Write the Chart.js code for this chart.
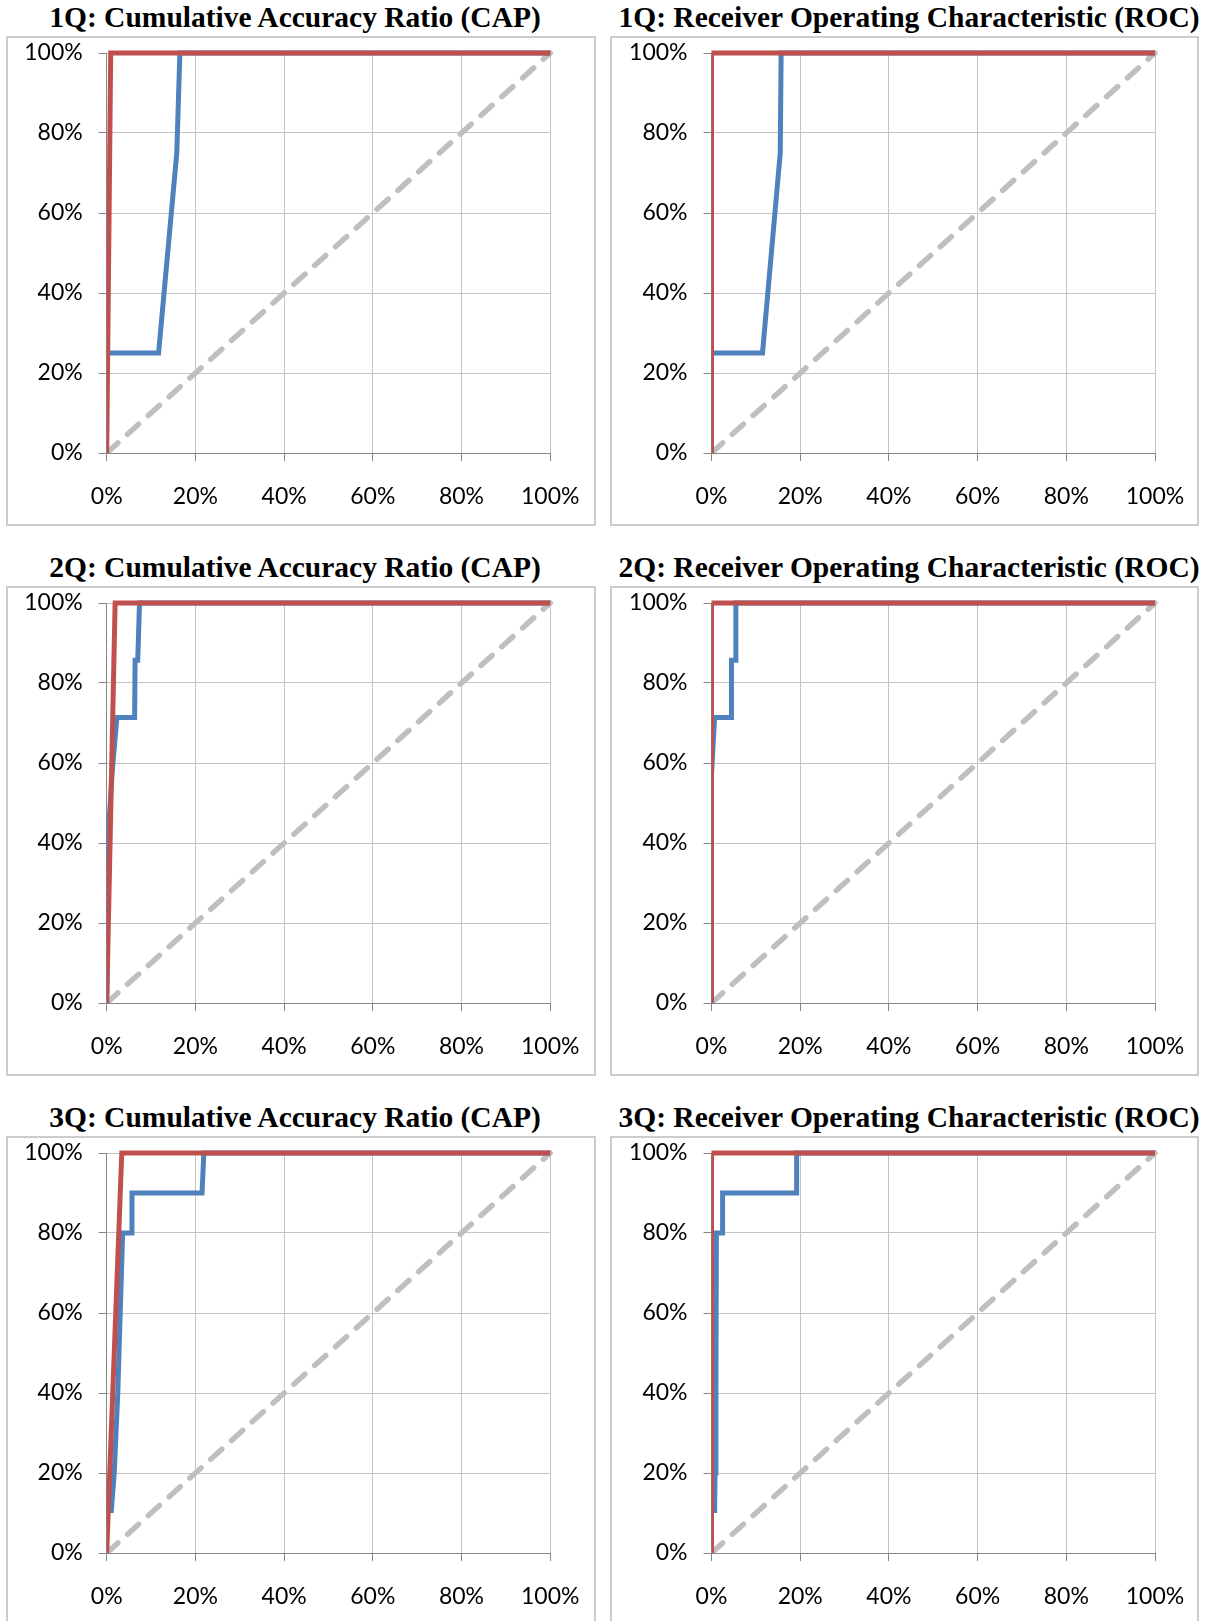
<!DOCTYPE html>
<html>
<head>
<meta charset="utf-8">
<script src="https://cdn.jsdelivr.net/npm/chart.js@4.4.1/dist/chart.umd.min.js"></script>
<style>
  html, body { margin: 0; padding: 0; background: #fff; }
  body { width: 1206px; height: 1621px; position: relative; overflow: hidden; }
  .title {
    position: absolute; height: 36px; line-height: 36px; text-align: center;
    font: bold 29.5px "Liberation Serif", "Times New Roman", serif; color: #000; white-space: nowrap;
  }
  .frame { position: absolute; box-sizing: border-box; border: 2px solid #cccccc; background: #fff; }
  .frame canvas { display: block; }
</style>
</head>
<body>
<script>
// chart titles, row by row (CAP left, ROC right)
const titles = [
    "1Q: Cumulative Accuracy Ratio (CAP)", "1Q: Receiver Operating Characteristic (ROC)",
    "2Q: Cumulative Accuracy Ratio (CAP)", "2Q: Receiver Operating Characteristic (ROC)",
    "3Q: Cumulative Accuracy Ratio (CAP)", "3Q: Receiver Operating Characteristic (ROC)",
];
// tick values shared by both axes
const axisTicks = [0, 0.2, 0.4, 0.6, 0.8, 1];

// random model, same diagonal on every chart
const randomX = [0, 1];
const randomY = [0, 1];

// 1Q
const q1CapPerfectX = [0, 0.009, 1];
const q1CapPerfectY = [0, 1, 1];
const q1CapModelX = [0.002, 0.117, 0.158, 0.165, 1];
const q1CapModelY = [0.25, 0.25, 0.75, 1, 1];
const q1RocPerfectX = [0, 0, 1];
const q1RocPerfectY = [0, 1, 1];
const q1RocModelX = [0, 0, 0.115, 0.155, 0.157, 1];
const q1RocModelY = [0, 0.25, 0.25, 0.75, 1, 1];

// 2Q
const q2CapPerfectX = [0, 0.019, 1];
const q2CapPerfectY = [0, 1, 1];
const q2CapModelX = [0, 0.004, 0.012, 0.023, 0.063, 0.064, 0.07, 0.074, 1];
const q2CapModelY = [0, 0.429, 0.571, 0.714, 0.714, 0.857, 0.857, 1, 1];
const q2RocPerfectX = [0, 0, 1];
const q2RocPerfectY = [0, 1, 1];
const q2RocModelX = [0, 0, 0.007, 0.045, 0.045, 0.055, 0.055, 1];
const q2RocModelY = [0, 0.571, 0.714, 0.714, 0.857, 0.857, 1, 1];

// 3Q
const q3CapPerfectX = [0, 0.034, 1];
const q3CapPerfectY = [0, 1, 1];
const q3CapModelX = [0.01, 0.017, 0.025, 0.036, 0.055, 0.057, 0.215, 0.219, 1];
const q3CapModelY = [0.1, 0.2, 0.4, 0.8, 0.8, 0.9, 0.9, 1, 1];
const q3RocPerfectX = [0, 0, 1];
const q3RocPerfectY = [0, 1, 1];
const q3RocModelX = [0.007, 0.008, 0.01, 0.011, 0.025, 0.025, 0.192, 0.192, 1];
const q3RocModelY = [0.1, 0.2, 0.4, 0.8, 0.8, 0.9, 0.9, 1, 1];

const panels = [
    { perfectX: q1CapPerfectX, perfectY: q1CapPerfectY, modelX: q1CapModelX, modelY: q1CapModelY },
    { perfectX: q1RocPerfectX, perfectY: q1RocPerfectY, modelX: q1RocModelX, modelY: q1RocModelY },
    { perfectX: q2CapPerfectX, perfectY: q2CapPerfectY, modelX: q2CapModelX, modelY: q2CapModelY },
    { perfectX: q2RocPerfectX, perfectY: q2RocPerfectY, modelX: q2RocModelX, modelY: q2RocModelY },
    { perfectX: q3CapPerfectX, perfectY: q3CapPerfectY, modelX: q3CapModelX, modelY: q3CapModelY },
    { perfectX: q3RocPerfectX, perfectY: q3RocPerfectY, modelX: q3RocModelX, modelY: q3RocModelY },
];

const RED = "#c0504d";
const BLUE = "#4f81bd";
const DIAG = "#bfbfbf";
const GRID = "#c4c4c4";
const AXIS = "#868686";

// page layout (pixels)
const frameLeft = [6, 610];
const frameWidth = [590, 589];
const titleCenter = [295, 909];
const rowTop = [36, 586, 1136];
const frameHeight = 490;
const plotLeft = [106.7, 711.5];
const plotW = 443.5;
const plotH = 400;
const plotTopInFrame = 17;
const Y_W = 90;
const X_H = 60;

const toPoints = (xs, ys) => xs.map((x, i) => ({ x: x, y: ys[i] }));
const pct = (v) => Math.round(v * 100) + "%";

const makeScale = (axis) => ({
    type: "linear",
    min: 0,
    max: 1,
    afterBuildTicks: (scale) => {
        scale.ticks = axisTicks.map((v) => ({ value: v }));
    },
    afterFit: (scale) => {
        if (axis === "x") scale.height = X_H;
        else scale.width = Y_W;
        // keep the plot area exactly where the layout puts it
        scale.paddingTop = 0;
        scale.paddingBottom = 0;
        scale.paddingLeft = 0;
        scale.paddingRight = 0;
    },
    grid: {
        color: (ctx) => (ctx.tick && ctx.tick.value === 0 ? AXIS : GRID),
        lineWidth: 1,
        tickLength: 8,
        tickColor: AXIS,
    },
    border: { color: AXIS, width: 1 },
    ticks: {
        autoSkip: false,
        maxRotation: 0,
        padding: axis === "x" ? 22 : 16,
        color: "#000",
        font: { family: "Lato", size: 23 },
        callback: (v) => pct(v),
    },
});

const buildChart = (idx) => {
    const col = idx % 2;
    const row = Math.floor(idx / 2);
    const p = panels[idx];

    const title = document.createElement("div");
    title.className = "title";
    title.style.left = titleCenter[col] - 300 + "px";
    title.style.width = "600px";
    title.style.top = rowTop[row] - 35 + "px";
    title.textContent = titles[idx];
    document.body.appendChild(title);

    const frame = document.createElement("div");
    frame.className = "frame";
    frame.style.left = frameLeft[col] + "px";
    frame.style.top = rowTop[row] + "px";
    frame.style.width = frameWidth[col] + "px";
    frame.style.height = frameHeight + "px";
    document.body.appendChild(frame);

    const cw = frameWidth[col] - 4;
    const ch = frameHeight - 4;
    const canvas = document.createElement("canvas");
    canvas.width = cw;
    canvas.height = ch;
    frame.appendChild(canvas);

    const leftIn = plotLeft[col] - (frameLeft[col] + 2);
    const topIn = plotTopInFrame - 2;

    const common = {
        showLine: true,
        pointRadius: 0,
        pointHoverRadius: 0,
        fill: false,
        tension: 0,
        clip: { left: 0, top: 3, right: 3, bottom: 0 },
    };

    new Chart(canvas.getContext("2d"), {
        type: "scatter",
        data: {
            datasets: [
                Object.assign({}, common, {
                    label: "Perfect",
                    data: toPoints(p.perfectX, p.perfectY),
                    borderColor: RED,
                    borderWidth: 5,
                    order: 0,
                }),
                Object.assign({}, common, {
                    label: "Model",
                    data: toPoints(p.modelX, p.modelY),
                    borderColor: BLUE,
                    borderWidth: 5,
                    order: 1,
                }),
                Object.assign({}, common, {
                    label: "Random",
                    data: toPoints(randomX, randomY),
                    borderColor: DIAG,
                    borderWidth: 5.5,
                    borderDash: [15, 13],
                    borderCapStyle: "round",
                    order: 2,
                }),
            ],
        },
        options: {
            responsive: false,
            animation: false,
            devicePixelRatio: 1,
            layout: {
                padding: {
                    left: leftIn - Y_W,
                    top: topIn,
                    right: cw - leftIn - plotW,
                    bottom: ch - topIn - plotH - X_H,
                },
            },
            plugins: {
                legend: { display: false },
                tooltip: { enabled: false },
                title: { display: false },
            },
            scales: {
                x: makeScale("x"),
                y: makeScale("y"),
            },
        },
    });
};

document.fonts.load("23px Lato").then(() => {
    for (let i = 0; i < panels.length; i++) buildChart(i);
});
</script>
</body>
</html>
